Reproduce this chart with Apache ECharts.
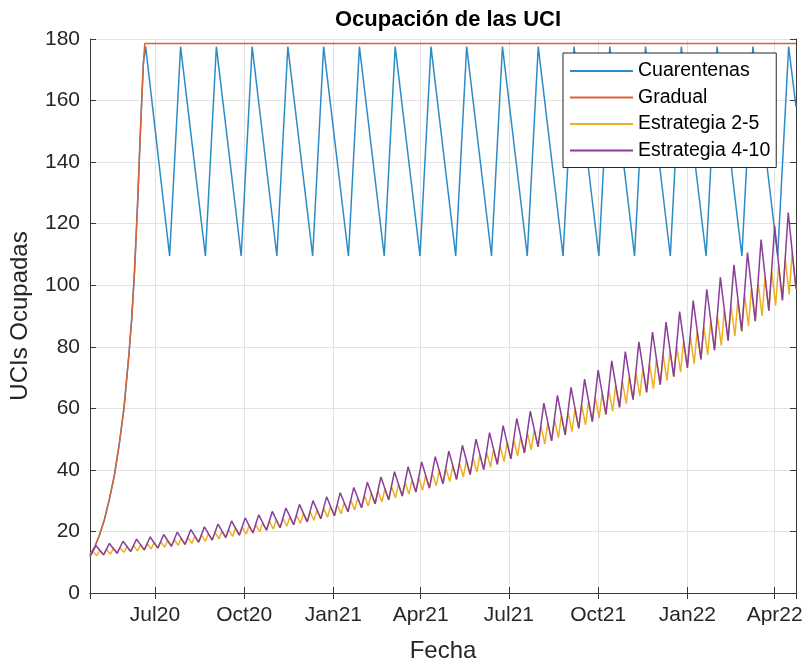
<!DOCTYPE html>
<html>
<head>
<meta charset="utf-8">
<script src="https://cdn.jsdelivr.net/npm/echarts@6/dist/echarts.min.js"></script>
<style>
html,body{margin:0;padding:0;background:#fff;}
#chart{width:804px;height:665px;}
</style>
</head>
<body>
<div id="chart"></div>
<script>
// ---- data (days counted from startDate) ----
const startDate = [2020, 3, 25];        // 25 Apr 2020 (UTC)
const endDay = 728;                     // 23 Apr 2022
const seriesNames = ['Cuarentenas', 'Gradual', 'Estrategia 2-5', 'Estrategia 4-10'];
const monthNames = ['Jan','Feb','Mar','Apr','May','Jun','Jul','Aug','Sep','Oct','Nov','Dec'];

const gradualDays   = [0, 5, 10, 15, 20, 25, 30, 35, 40, 43, 46, 49, 52, 55, 56.5, 728];
const gradualValues = [12.5, 15, 19, 24, 30.5, 38, 48, 60, 77, 89, 105, 126, 150, 172, 178.5, 178.5];

const cuarentenasDays = [0, 5, 10, 15, 20, 25, 30, 35, 40, 43, 46, 49, 52, 55, 57.4,
  82.1, 93.4, 119.0, 130.3, 155.9, 167.2, 192.7, 204.0, 229.6, 240.9, 266.5, 277.8,
  303.4, 314.7, 340.3, 351.6, 377.1, 388.4, 414.0, 425.3, 450.9, 462.2, 487.8, 499.1,
  524.7, 536.0, 561.5, 572.8, 598.4, 609.7, 635.3, 646.6, 672.2, 683.5, 709.1, 720.4, 728];
const cuarentenasValues = [12.5, 15, 19, 24, 30.5, 38, 48, 60, 77, 89, 105, 126, 150, 172, 177.5,
  109.5, 177.5, 109.5, 177.5, 109.5, 177.5, 109.5, 177.5, 109.5, 177.5, 109.5, 177.5,
  109.5, 177.5, 109.5, 177.5, 109.5, 177.5, 109.5, 177.5, 109.5, 177.5, 109.5, 177.5,
  109.5, 177.5, 109.5, 177.5, 109.5, 177.5, 109.5, 177.5, 109.5, 177.5, 109.5, 177.5, 158];

// Estrategia 4-10: 14-day cycle (trough -> peak in 6 days, then down)
const e410Cycle = 14, e410Rise = 6;
const e410Troughs = [11.8,12.4,12.9,13.5,14.0,14.6,15.2,15.8,16.5,17.2,18.0,18.8,19.5,20.4,21.2,22.2,23.1,24.1,
  25.1,26.4,27.7,29.0,30.3,31.5,32.8,34.1,35.5,36.9,38.5,40.1,41.8,43.6,45.5,47.5,49.4,51.4,53.5,55.7,58.0,
  60.3,62.8,65.2,67.7,70.3,73.1,75.9,78.9,82.0,85.1,88.3,91.7,95.1,98.9];
const e410Peaks = [15.4,16.1,16.8,17.5,18.2,19.0,19.8,20.6,21.5,22.4,23.4,24.4,25.4,26.5,27.6,28.8,30.0,31.3,
  32.6,34.3,36.0,37.7,39.4,41.0,42.6,44.3,46.1,48.0,50.0,52.1,54.4,56.7,59.1,61.7,64.2,66.8,69.5,72.4,75.4,
  78.4,81.6,84.8,88.0,91.4,95.0,98.7,102.6,106.6,110.6,114.8,119.2,123.6];

// Estrategia 2-5: 7-day cycle (trough -> peak in 3 days, then down)
const e25Cycle = 7, e25Rise = 3;
const e25Troughs = [11.8,12.1,12.4,12.6,12.9,13.2,13.5,13.7,14.0,14.3,14.6,14.9,15.2,15.5,15.8,16.1,16.5,16.8,
  17.2,17.6,18.0,18.4,18.8,19.1,19.5,19.9,20.4,20.8,21.2,21.7,22.2,22.6,23.1,23.6,24.1,24.6,25.1,25.7,26.4,
  27.0,27.7,28.3,29.0,29.6,30.3,30.9,31.5,32.1,32.8,33.4,34.1,34.8,35.5,36.2,36.9,37.7,38.5,39.3,40.1,40.9,
  41.8,42.7,43.6,44.5,45.5,46.5,47.5,48.4,49.4,50.4,51.4,52.4,53.5,54.6,55.7,56.8,58.0,59.1,60.3,61.5,62.8,
  64.0,65.2,66.4,67.7,69.0,70.3,71.7,73.1,74.5,75.9,77.4,78.9,80.4,82.0,83.5,85.1,86.7,88.3,90.0,91.7,93.4,
  95.1,97.0,98.9];
const e25Peaks = [13.5,13.8,14.1,14.4,14.7,15.0,15.4,15.6,16.0,16.3,16.6,17.0,17.3,17.7,18.0,18.4,18.8,19.2,
  19.6,20.1,20.5,21.0,21.4,21.8,22.2,22.7,23.3,23.7,24.2,24.7,25.3,25.8,26.3,26.9,27.5,28.0,28.6,29.3,30.1,
  30.8,31.6,32.3,33.1,33.7,34.5,35.2,35.9,36.6,37.4,38.1,38.9,39.7,40.5,41.3,42.1,43.0,43.9,44.8,45.7,46.6,
  47.7,48.7,49.7,50.7,51.9,53.0,54.2,55.2,56.3,57.5,58.6,59.7,61.0,62.2,63.5,64.8,66.1,67.4,68.7,70.1,71.6,
  73.0,74.3,75.7,77.2,78.7,80.1,81.7,83.3,84.9,86.5,88.2,89.9,91.7,93.5,95.2,97.0,98.8,100.7,102.6,104.5,
  106.5,108.4,110.6];

// ---- build series points ----
const DAY = 86400000;
const t0 = Date.UTC(startDate[0], startDate[1], startDate[2]);
const toTime = d => t0 + d * DAY;
function pairs(days, vals) { return days.map((d, i) => [toTime(d), vals[i]]); }
function cycles(troughs, peaks, cycle, rise) {
  const out = [];
  for (let k = 0; k < troughs.length; k++) {
    out.push([toTime(k * cycle), troughs[k]]);
    if (k < peaks.length) out.push([toTime(k * cycle + rise), peaks[k]]);
  }
  return out;
}

const colors = ['#2a8cc6', '#db6236', '#edb120', '#8a3d99'];
const axisColor = '#383838';
const fontFam = '"Liberation Sans", Arial, Helvetica, sans-serif';
const xMin = toTime(0), xMax = toTime(endDay);
const quarter = 95 * DAY;

const chart = echarts.init(document.getElementById('chart'), null, {renderer: 'canvas'});
const xBase = {
  type: 'time', min: xMin, max: xMax, minInterval: quarter, maxInterval: quarter,
  axisLine: {show: true, lineStyle: {color: axisColor, width: 1}},
  axisTick: {show: true, inside: true, length: 6, lineStyle: {color: axisColor}},
  splitLine: {show: false}
};
const yBase = {
  type: 'value', min: 0, max: 180, interval: 20,
  axisLine: {show: true, lineStyle: {color: axisColor, width: 1}},
  axisTick: {show: true, inside: true, length: 6, lineStyle: {color: axisColor}},
  splitLine: {show: false}
};
const option = {
  useUTC: true,
  animation: false,
  backgroundColor: '#fff',
  textStyle: {fontFamily: fontFam},
  title: {
    text: 'Ocupación de las UCI', left: 443, top: 4, textAlign: 'center',
    textStyle: {fontSize: 22, fontWeight: 'bold', color: '#000', fontFamily: fontFam}
  },
  legend: {
    orient: 'vertical', left: 563, top: 53,
    padding: [8, 6, 7, 7], itemGap: 6.5,
    itemWidth: 63, itemHeight: 2, icon: 'rect',
    backgroundColor: '#fff', borderColor: '#262626', borderWidth: 1, borderRadius: 0,
    textStyle: {fontSize: 19.5, color: '#000', fontFamily: fontFam},
    data: seriesNames
  },
  grid: {left: 90, right: 8, top: 39, bottom: 72, containLabel: false, outerBoundsMode: 'none'},
  xAxis: [
    Object.assign({}, xBase, {
      position: 'bottom',
      name: 'Fecha', nameLocation: 'middle', nameGap: 46,
      nameTextStyle: {fontSize: 24, color: '#262626', fontFamily: fontFam},
      axisLabel: {
        show: true, margin: 12, fontSize: 21, color: '#262626', fontFamily: fontFam,
        formatter: v => { const d = new Date(v); return monthNames[d.getUTCMonth()] + String(d.getUTCFullYear()).slice(2); }
      },
      splitLine: {show: true, lineStyle: {color: '#e2e2e2', width: 1}}
    }),
    Object.assign({}, xBase, {position: 'top', axisLabel: {show: false}})
  ],
  yAxis: [
    Object.assign({}, yBase, {
      position: 'left',
      name: 'UCIs Ocupadas', nameLocation: 'middle', nameGap: 58,
      nameTextStyle: {fontSize: 24, color: '#262626', fontFamily: fontFam},
      axisLabel: {show: true, margin: 10, fontSize: 21, color: '#262626', fontFamily: fontFam},
      splitLine: {show: true, lineStyle: {color: '#e2e2e2', width: 1}}
    }),
    Object.assign({}, yBase, {position: 'right', axisLabel: {show: false}})
  ],
  series: [
    {name: seriesNames[0], type: 'line', data: pairs(cuarentenasDays, cuarentenasValues)},
    {name: seriesNames[1], type: 'line', data: pairs(gradualDays, gradualValues)},
    {name: seriesNames[2], type: 'line', data: cycles(e25Troughs, e25Peaks, e25Cycle, e25Rise)},
    {name: seriesNames[3], type: 'line', data: cycles(e410Troughs, e410Peaks, e410Cycle, e410Rise)}
  ].map((s, i) => Object.assign(s, {
    xAxisIndex: 0, yAxisIndex: 0, showSymbol: false, symbol: 'none',
    color: colors[i], lineStyle: {color: colors[i], width: 1.5}, z: 2 + i
  }))
};
chart.setOption(option);
</script>
</body>
</html>
